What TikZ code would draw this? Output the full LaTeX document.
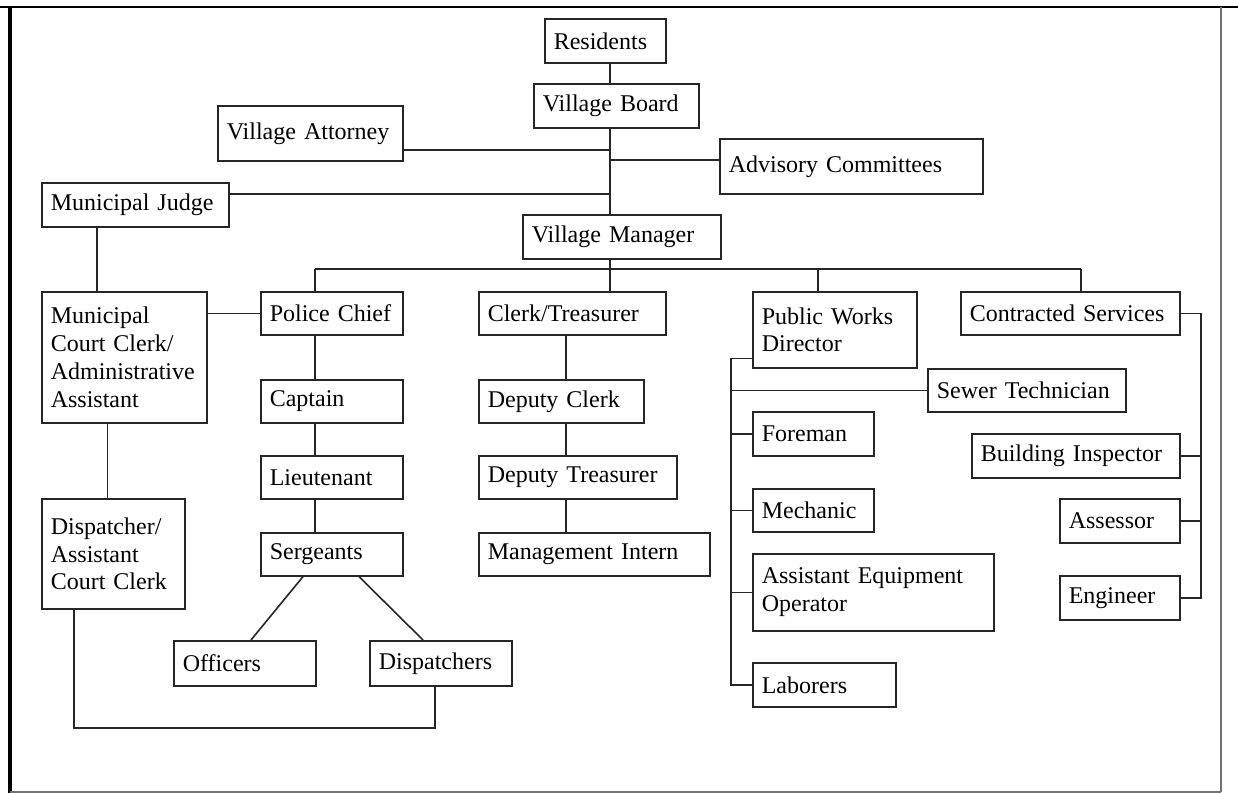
\documentclass[tikz,border=0pt]{standalone}
\usepackage{fontspec}
\setmainfont{Liberation Serif}
\usepackage{tikz}
\tikzstyle{Caja}=[rectangle, draw=black!85, line width=0.8pt, anchor=north west, inner xsep=4.5pt, inner ysep=2pt, align=left, font=\fontsize{12}{13.85}\selectfont]
\tikzstyle{Linea}=[draw=black!85, line width=0.8pt]
\tikzstyle{Marco}=[line width=1.2pt]

\begin{document}
\begin{tikzpicture}[x=0.5pt, y=-0.5pt]
			\useasboundingbox (0,0) rectangle (1238,793);

			%Marco
			\draw[Marco] (0,7) -- (1238,7);
			\draw[line width=1.6pt] (10,7) -- (10,793);
			\draw[draw=black!55, line width=0.9pt] (1221,7) -- (1221,792) (10,792) -- (1221,792);

			%Nodos
			\node[Caja, minimum height=22pt, text width=51.5pt]		(residents)		at (544,18)		{Residents};
			\node[Caja, minimum height=22pt, text width=73.5pt]		(board)			at (533,83)		{Village Board};
			\node[Caja, minimum height=27.5pt, text width=83.5pt]	(attorney)		at (217,105)	{Village Attorney};
			\node[Caja, minimum height=27.5pt, text width=122.5pt]	(advisory)		at (719,138)	{Advisory Committees};
			\node[Caja, minimum height=22pt, text width=84.5pt]		(judge)			at (41,182)		{Municipal Judge};
			\node[Caja, minimum height=22pt, text width=90pt]		(manager)		at (522,214)	{Village Manager};

			\node[Caja, minimum height=65.5pt, text width=73.5pt]	(courtclerk)	at (41,291)		{Municipal\\Court Clerk/\\Administrative\\Assistant};
			\node[Caja, minimum height=55pt, text width=62.5pt]		(dispatcher)	at (41,498)		{Dispatcher/\\Assistant\\Court Clerk};

			\node[Caja, minimum height=21.5pt, text width=62pt]		(police)		at (260,291)	{Police Chief};
			\node[Caja, minimum height=21.5pt, text width=62pt]		(captain)		at (260,379)	{Captain};
			\node[Caja, minimum height=21.5pt, text width=62pt]		(lieutenant)	at (260,455)	{Lieutenant};
			\node[Caja, minimum height=21.5pt, text width=62pt]		(sergeants)		at (260,532)	{Sergeants};
			\node[Caja, minimum height=22.5pt, text width=62pt]		(officers)		at (173,640)	{Officers};
			\node[Caja, minimum height=22.5pt, text width=62pt]		(dispatchers)	at (369,640)	{Dispatchers};

			\node[Caja, minimum height=21.5pt, text width=84.5pt]	(treasurer)		at (478,291)	{Clerk/Treasurer};
			\node[Caja, minimum height=21.5pt, text width=73.5pt]	(deputyclerk)	at (478,379)	{Deputy Clerk};
			\node[Caja, minimum height=21.5pt, text width=90pt]		(deputytreas)	at (478,455)	{Deputy Treasurer};
			\node[Caja, minimum height=21.5pt, text width=106.5pt]	(intern)		at (478,532)	{Management Intern};

			\node[Caja, minimum height=38pt, text width=73pt]		(publicworks)	at (752,291)	{Public Works\\Director};
			\node[Caja, minimum height=21.5pt, text width=90pt]		(sewer)			at (927,368)	{Sewer Technician};
			\node[Caja, minimum height=22pt, text width=51.5pt]		(foreman)		at (752,411)	{Foreman};
			\node[Caja, minimum height=21.5pt, text width=51.5pt]	(mechanic)		at (752,488)	{Mechanic};
			\node[Caja, minimum height=38.5pt, text width=111.5pt]	(equipment)		at (752,553)	{Assistant Equipment\\Operator};
			\node[Caja, minimum height=22pt, text width=62.5pt]		(laborers)		at (752,662)	{Laborers};

			\node[Caja, minimum height=21.5pt, text width=100.5pt]	(contracted)	at (960,291)	{Contracted Services};
			\node[Caja, minimum height=22pt, text width=95pt]		(inspector)		at (971,433)	{Building Inspector};
			\node[Caja, minimum height=22pt, text width=51pt]		(assessor)		at (1059,498)	{Assessor};
			\node[Caja, minimum height=22pt, text width=51pt]		(engineer)		at (1059,575)	{Engineer};

			%Puntos de paso
			\coordinate (eje) at (610,0);
			\coordinate (bus1) at (315,269);
			\coordinate (bus3) at (818,269);
			\coordinate (bus4) at (1081,269);
			\coordinate (judgeline) at (97,0);
			\coordinate (clerkline) at (107.5,0);
			\coordinate (treasline) at (566,0);
			\coordinate (pwline) at (731,0);
			\coordinate (csline) at (1201,0);
			\coordinate (loop1) at (74,728);
			\coordinate (loop2) at (435,728);

			%Lineas
			\draw[Linea] (residents.south -| eje) -- (board.north -| eje);
			\draw[Linea] (board.south -| eje) -- (manager.north -| eje);
			\draw[Linea] ([yshift=-8.25pt]attorney.east) -- ([yshift=-8.25pt]attorney.east -| eje);
			\draw[Linea] ([yshift=3.25pt]advisory.west) -- ([yshift=3.25pt]advisory.west -| eje);
			\draw[Linea] ([yshift=5.5pt]judge.east) -- ([yshift=5.5pt]judge.east -| eje);
			\draw[Linea] (judge.south -| judgeline) -- (courtclerk.north -| judgeline);

			\draw[Linea] (manager.south -| eje) -- (bus1 -| eje);
			\draw[Linea] (bus1) -- (bus4);
			\draw[Linea] (bus1) -- (police.north -| bus1);
			\draw[Linea] (bus1 -| eje) -- (treasurer.north -| eje);
			\draw[Linea] (bus3) -- (publicworks.north -| bus3);
			\draw[Linea] (bus4) -- (contracted.north -| bus4);

			\draw[Linea] (courtclerk.east |- police.west) -- (police.west);
			\draw[Linea] (courtclerk.south -| clerkline) -- (dispatcher.north -| clerkline);

			\draw[Linea] (police.south -| bus1) -- (captain.north -| bus1);
			\draw[Linea] (captain.south -| bus1) -- (lieutenant.north -| bus1);
			\draw[Linea] (lieutenant.south -| bus1) -- (sergeants.north -| bus1);
			\draw[Linea] ([xshift=21.5pt]sergeants.south west) -- ([xshift=39pt]officers.north west);
			\draw[Linea] ([xshift=49.5pt]sergeants.south west) -- ([xshift=27pt]dispatchers.north west);
			\draw[Linea] (dispatcher.south -| loop1) -- (loop1) -- (loop2) -- (dispatchers.south -| loop2);

			\draw[Linea] (treasurer.south -| treasline) -- (deputyclerk.north -| treasline);
			\draw[Linea] (deputyclerk.south -| treasline) -- (deputytreas.north -| treasline);
			\draw[Linea] (deputytreas.south -| treasline) -- (intern.north -| treasline);

			\draw[Linea] ([yshift=5pt]publicworks.south west) -| (laborers.west -| pwline) -- (laborers.west);
			\draw[Linea] (sewer.west -| pwline) -- (sewer.west);
			\draw[Linea] (foreman.west -| pwline) -- (foreman.west);
			\draw[Linea] (mechanic.west -| pwline) -- (mechanic.west);
			\draw[Linea] (equipment.west -| pwline) -- (equipment.west);

			\draw[Linea] (contracted.east) -| (engineer.east -| csline) -- (engineer.east);
			\draw[Linea] (inspector.east) -- (inspector.east -| csline);
			\draw[Linea] (assessor.east) -- (assessor.east -| csline);

		\end{tikzpicture}
\end{document}
